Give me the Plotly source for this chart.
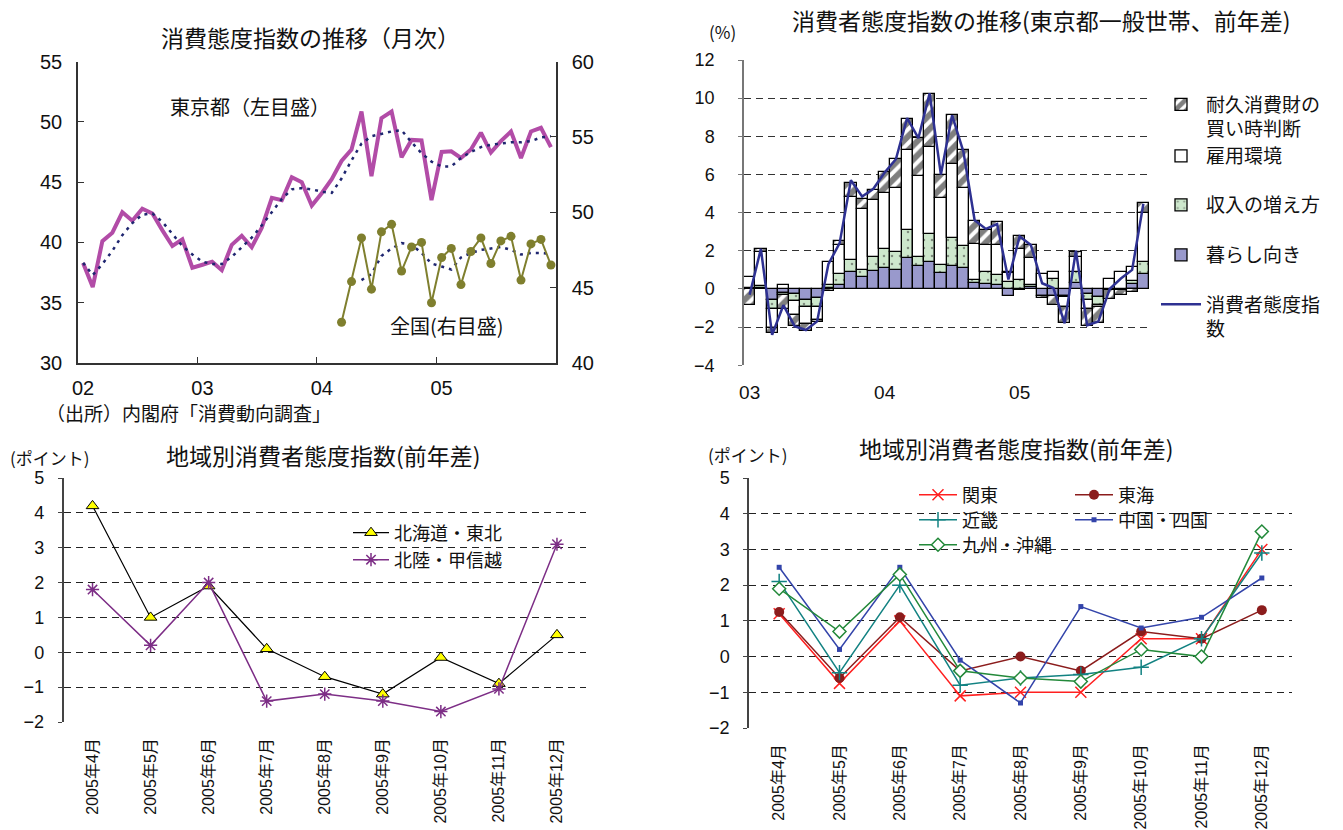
import plotly.graph_objects as go

W, H = 1343, 830
JP = "Noto Sans CJK JP"
NUM = "Liberation Sans, Noto Sans CJK JP"
AX = "#333333"
INK = "#111111"


def fx(px):
    return px / W


def fy(px):
    return 1 - px / H


# ---------------- 消費態度指数の推移（月次） ----------------
months_a = [f"{y}-{m:02d}" for y in range(2002, 2006) for m in range(1, 13)]
year_starts = ["2002-01-01", "2003-01-01", "2004-01-01", "2005-01-01"]
year_labels = ["02", "03", "04", "05"]

tokyo = [38.3, 36.3, 40.1, 40.8, 42.5, 41.8, 42.8, 42.4, 41.0, 39.7, 40.25, 37.9,
         38.15, 38.4, 37.7, 39.8, 40.55, 39.6, 41.2, 43.7, 43.5, 45.4, 45.0, 43.05,
         44.1, 45.25, 46.75, 47.7, 50.85, 45.5, 50.3, 50.85, 47.05, 48.5, 48.45, 43.5,
         47.5, 47.55, 47.0, 47.7, 49.1, 47.45, 48.4, 49.2, 47.0, 49.2, 49.5, 47.9]
tokyo_trend = [38.3, 37.3, 38.2, 39.3, 40.6, 41.6, 42.3, 42.4, 41.7, 40.7, 39.7, 39.0,
               38.4, 38.2, 38.2, 38.8, 39.6, 40.4, 41.4, 42.5, 43.6, 44.4, 44.5, 44.4,
               44.2, 44.1, 45.3, 46.8, 48.2, 48.8, 49.0, 49.2, 49.3, 48.3, 47.4, 46.7,
               46.3, 46.3, 47.0, 47.5, 47.9, 48.1, 48.2, 48.3, 48.3, 48.4, 48.7, 48.8]
national_months = months_a[26:]
national = [42.7, 45.4, 48.3, 44.9, 48.7, 49.2, 46.1, 47.7, 48.0, 44.0, 47.0,
            47.6, 45.2, 47.4, 48.3, 46.6, 48.1, 48.4, 45.5, 47.9, 48.2, 46.5]
national_trend_months = months_a[28:]
national_trend = [45.5, 45.9, 47.1, 47.6, 47.95, 47.85, 47.3, 46.6, 46.4, 46.2,
                  47.0, 47.3, 47.5, 47.6, 47.7, 47.5, 47.2, 47.3, 47.3, 47.25]

# ---------------- 消費者態度指数の推移(東京都一般世帯、前年差) ----------------
months_b = months_a[12:]
year_ticks_b = ["2003-01", "2004-01", "2005-01"]
year_labels_b = ["03", "04", "05"]

kurashi = [0.0, 0.05, -0.59, -0.22, -0.25, -0.6, -0.47, 0.03, 0.23, 0.87, 0.61, 0.96,
           1.1, 1.01, 1.62, 1.18, 1.41, 0.83, 1.23, 1.1, 0.31, 0.26, 0.23, -0.38,
           -0.05, 0.1, -0.35, -0.38, -0.38, 0.3, -0.25, -0.42, -0.05, -0.05, 0.26, 0.78]
shunyu = [0.05, 0.1, -0.45, -0.08, -0.4, -0.35, -0.47, 0.2, 0.57, 0.66, 0.4, 0.71,
          1.0, 0.92, 1.48, 0.49, 1.46, 0.43, 1.46, 1.13, 0.14, 0.61, 0.52, 0.37,
          0.45, 0.12, 0.0, 0.5, -0.05, 0.6, -0.35, -0.4, 0.0, 0.0, 0.14, 0.66]
koyo = [0.6, 1.8, -0.99, 0.2, -0.7, -0.87, -0.66, 1.2, 1.5, 3.3, 3.17, 2.99,
        2.92, 3.34, 4.17, 4.24, 4.57, 3.53, 3.84, 3.04, 1.91, 1.44, 1.57, 0.45,
        1.65, 1.4, 0.8, 0.4, -0.5, 0.8, -0.45, -0.15, 0.52, 0.87, 0.77, 2.52]
taikyu = [-0.82, 0.15, -0.3, -0.75, -0.6, -0.37, -0.15, -0.1, 0.23, 0.75, 0.54, 0.52,
          1.11, 1.53, 1.65, 2.02, 2.78, 1.2, 2.61, 2.0, 1.2, 0.78, 1.17, 0.05,
          0.7, 0.7, -0.1, -0.45, -0.87, 0.25, -0.87, -0.8, -0.5, -0.25, -0.17, 0.52]
index_b = [-0.3, 2.1, -2.4, -0.85, -1.95, -2.15, -1.7, 1.3, 2.4, 5.7, 4.85, 5.25,
           6.1, 6.8, 8.95, 7.9, 10.25, 6.0, 9.1, 7.2, 3.6, 3.15, 3.4, 0.5,
           2.75, 2.3, 0.3, 0.05, -1.8, 2.0, -1.9, -1.7, 0.0, 0.55, 1.0, 4.47]

# ---------------- 地域別消費者態度指数(前年差) ----------------
months_c = ["2005年4月", "2005年5月", "2005年6月", "2005年7月", "2005年8月",
            "2005年9月", "2005年10月", "2005年11月", "2005年12月"]
hokkaido_tohoku = [4.2, 1.0, 1.9, 0.1, -0.7, -1.2, -0.15, -0.9, 0.5]
hokuriku_koshinetsu = [1.8, 0.2, 2.0, -1.4, -1.2, -1.4, -1.7, -1.05, 3.1]
kanto = [1.2, -0.75, 1.0, -1.1, -1.0, -1.0, 0.5, 0.5, 3.0]
tokai = [1.25, -0.6, 1.1, -0.4, 0.0, -0.4, 0.7, 0.5, 1.3]
kinki = [2.1, -0.45, 2.0, -0.8, -0.6, -0.5, -0.3, 0.5, 2.9]
chugoku_shikoku = [2.5, 0.2, 2.5, -0.1, -1.3, 1.4, 0.8, 1.1, 2.2]
kyushu_okinawa = [1.9, 0.7, 2.3, -0.4, -0.6, -0.7, 0.2, 0.0, 3.5]

fig = go.Figure()

# ---- monthly index (left/right scales)
dot_line = dict(color="#1F2670", width=2.5, dash="3px,5px")
fig.add_trace(go.Scatter(x=months_a, y=tokyo, xperiod="M1", xperiodalignment="middle",
                         mode="lines", line=dict(color="#B24CA7", width=4),
                         xaxis="x", yaxis="y", showlegend=False, name="東京都"))
fig.add_trace(go.Scatter(x=months_a, y=tokyo_trend, xperiod="M1", xperiodalignment="middle",
                         mode="lines", line=dot_line, xaxis="x", yaxis="y", showlegend=False))
fig.add_trace(go.Scatter(x=national_trend_months, y=national_trend, xperiod="M1",
                         xperiodalignment="middle", mode="lines", line=dot_line,
                         xaxis="x", yaxis="y2", showlegend=False))
fig.add_trace(go.Scatter(x=national_months, y=national, xperiod="M1", xperiodalignment="middle",
                         mode="lines+markers", line=dict(color="#7F7F2E", width=2),
                         marker=dict(size=9, color="#7F7F2E"),
                         xaxis="x", yaxis="y2", showlegend=False, name="全国"))

# ---- Tokyo year-on-year contributions
bar_line = dict(color="black", width=1.3)
fig.add_trace(go.Bar(x=months_b, y=kurashi, name="暮らし向き", xaxis="x2", yaxis="y3",
                     marker=dict(color="#9999CC", line=bar_line), legend="legend4"))
fig.add_trace(go.Bar(x=months_b, y=shunyu, name="収入の増え方", xaxis="x2", yaxis="y3",
                     marker=dict(color="#CDE7CC", line=bar_line,
                                 pattern=dict(shape=".", fgcolor="#333333", size=8,
                                              solidity=0.08, fillmode="overlay")),
                     legend="legend3"))
fig.add_trace(go.Bar(x=months_b, y=koyo, name="雇用環境", xaxis="x2", yaxis="y3",
                     marker=dict(color="white", line=bar_line), legend="legend2"))
fig.add_trace(go.Bar(x=months_b, y=taikyu, name="耐久消費財の<br>買い時判断", xaxis="x2", yaxis="y3",
                     marker=dict(color="white", line=bar_line,
                                 pattern=dict(shape="/", fgcolor="black", size=10,
                                              solidity=0.6, fillmode="overlay")),
                     legend="legend"))
fig.add_trace(go.Scatter(x=months_b, y=index_b, name="消費者態度指<br>数", mode="lines",
                         line=dict(color="#2E3192", width=2.5), xaxis="x2", yaxis="y3",
                         legend="legend5"))

# ---- regional (left)
fig.add_trace(go.Scatter(x=months_c, y=hokkaido_tohoku, name="北海道・東北", mode="lines+markers",
                         line=dict(color="black", width=1.2),
                         marker=dict(symbol="triangle-up", size=11, color="#FFFF00",
                                     line=dict(color="black", width=1)),
                         xaxis="x3", yaxis="y4", legend="legend6"))
fig.add_trace(go.Scatter(x=months_c, y=hokuriku_koshinetsu, name="北陸・甲信越", mode="lines+markers",
                         line=dict(color="#7D2E86", width=1.5),
                         marker=dict(symbol="asterisk-open", size=11,
                                     line=dict(color="#7D2E86", width=1.5)),
                         xaxis="x3", yaxis="y4", legend="legend7"))

# ---- regional (right)
fig.add_trace(go.Scatter(x=months_c, y=kanto, name="関東", mode="lines+markers",
                         line=dict(color="#FF2020", width=1.5),
                         marker=dict(symbol="x-thin-open", size=11,
                                     line=dict(color="#FF2020", width=1.5)),
                         xaxis="x4", yaxis="y5", legend="legend8"))
fig.add_trace(go.Scatter(x=months_c, y=tokai, name="東海", mode="lines+markers",
                         line=dict(color="#8B1C1C", width=1.5),
                         marker=dict(symbol="circle", size=10, color="#8B1C1C"),
                         xaxis="x4", yaxis="y5", legend="legend9"))
fig.add_trace(go.Scatter(x=months_c, y=kinki, name="近畿", mode="lines+markers",
                         line=dict(color="#128282", width=1.5),
                         marker=dict(symbol="cross-thin-open", size=11,
                                     line=dict(color="#128282", width=1.5)),
                         xaxis="x4", yaxis="y5", legend="legend10"))
fig.add_trace(go.Scatter(x=months_c, y=chugoku_shikoku, name="中国・四国", mode="lines+markers",
                         line=dict(color="#3344AA", width=1.5),
                         marker=dict(symbol="square", size=5, color="#3344AA"),
                         xaxis="x4", yaxis="y5", legend="legend11"))
fig.add_trace(go.Scatter(x=months_c, y=kyushu_okinawa, name="九州・沖縄", mode="lines+markers",
                         line=dict(color="#23893A", width=1.5),
                         marker=dict(symbol="diamond", size=10, color="white",
                                     line=dict(color="#23893A", width=1.5)),
                         xaxis="x4", yaxis="y5", legend="legend12"))


def legend_box(x_px, y_px, size=18, valign="middle", itemwidth=30):
    return dict(x=fx(x_px), y=fy(y_px), xanchor="left", yanchor="middle",
                bgcolor="rgba(0,0,0,0)", borderwidth=0, itemwidth=itemwidth,
                valign=valign, font=dict(family=JP, size=size, color=INK))


# plot areas (pixels)
C3_TOP, C3_BOT = 478, 722
C4_TOP, C4_BOT = 478, 728
c3_zero = fy(C3_BOT) + (0 - (-2)) / 7 * (fy(C3_TOP) - fy(C3_BOT))
c4_zero = fy(C4_BOT) + (0 - (-2)) / 7 * (fy(C4_TOP) - fy(C4_BOT))
boundaries_c = [i + 0.5 for i in range(len(months_c))]

num_font = dict(family=NUM, size=20, color=INK)
small_num = dict(family=NUM, size=18, color=INK)
month_font = dict(family=NUM, size=16, color=INK)
dash_grid = dict(showgrid=True, gridcolor="#222222", gridwidth=1, griddash="7px,5px")

fig.update_layout(
    width=W, height=H, autosize=False,
    margin=dict(l=0, r=0, t=0, b=0),
    paper_bgcolor="white", plot_bgcolor="white",
    font=dict(family=JP, size=18, color=INK),
    barmode="relative", bargap=0,
    # chart 1
    xaxis=dict(type="date", domain=[fx(78), fx(556)], anchor="y",
               range=["2002-01-01", "2006-01-01"], tickmode="array",
               tickvals=year_starts, ticktext=year_labels, ticks="inside", ticklen=6,
               tickcolor=AX, ticklabelshift=5, ticklabelstandoff=6,
               showline=True, linecolor=AX, linewidth=1.5, showgrid=False,
               zeroline=False, tickfont=num_font),
    yaxis=dict(domain=[fy(363), fy(61.5)], anchor="x", range=[30, 55], dtick=5,
               ticks="inside", ticklen=6, tickcolor=AX, showline=True, linecolor=AX,
               linewidth=1.5, showgrid=False, zeroline=False, tickfont=num_font,
               ticklabelstandoff=10),
    yaxis2=dict(overlaying="y", side="right", anchor="x", range=[40, 60], dtick=5,
                ticks="inside", ticklen=6, tickcolor=AX, showline=True, linecolor=AX,
                linewidth=1.5, showgrid=False, zeroline=False, tickfont=num_font,
                ticklabelstandoff=10),
    # chart 2
    xaxis2=dict(type="category", domain=[fx(744), fx(1149)], anchor="y3",
                tickmode="array", tickvals=year_ticks_b, ticktext=year_labels_b,
                ticks="", showline=False, showgrid=False, zeroline=False,
                tickfont=dict(family=NUM, size=19, color=INK), ticklabelstandoff=14),
    yaxis3=dict(domain=[fy(365.3), fy(60)], anchor="x2", range=[-4, 12], dtick=2,
                ticks="outside", ticklen=4, tickcolor="#777777", showline=True,
                linecolor="#777777", linewidth=1.5, zeroline=False,
                tickfont=small_num, ticklabelstandoff=20,
                showgrid=True, gridcolor="#333333", gridwidth=1, griddash="7px,5px"),
    # chart 3
    xaxis3=dict(type="category", domain=[fx(63.5), fx(586)], anchor="y4",
                range=[-0.5, 8.5], tickangle=-90, ticks="", showline=False,
                showgrid=False, zeroline=False, ticklabelstandoff=12,
                tickfont=month_font),
    yaxis4=dict(domain=[fy(C3_BOT), fy(C3_TOP)], anchor="x3", range=[-2, 5], dtick=1,
                ticks="outside", ticklen=4, tickcolor="#444444", showline=True,
                linecolor="#444444", linewidth=1.5, zeroline=False,
                tickfont=small_num, ticklabelstandoff=10, **dash_grid),
    xaxis5=dict(overlaying="x3", anchor="free", position=c3_zero, range=[-0.5, 8.5],
                tickmode="array", tickvals=boundaries_c, ticks="inside", ticklen=6,
                tickcolor=INK, showline=True, linecolor=INK, linewidth=1.5,
                showticklabels=False, showgrid=False, zeroline=False),
    # chart 4
    xaxis4=dict(type="category", domain=[fx(749), fx(1292)], anchor="y5",
                range=[-0.5, 8.5], tickangle=-90, ticks="", showline=False,
                showgrid=False, zeroline=False, ticklabelstandoff=12,
                tickfont=month_font),
    yaxis5=dict(domain=[fy(C4_BOT), fy(C4_TOP)], anchor="x4", range=[-2, 5], dtick=1,
                ticks="outside", ticklen=4, tickcolor="#444444", showline=True,
                linecolor="#444444", linewidth=1.5, zeroline=False,
                tickfont=small_num, ticklabelstandoff=10, **dash_grid),
    xaxis6=dict(overlaying="x4", anchor="free", position=c4_zero, range=[-0.5, 8.5],
                tickmode="array", tickvals=boundaries_c, ticks="inside", ticklen=6,
                tickcolor=INK, showline=True, linecolor=INK, linewidth=1.5,
                showticklabels=False, showgrid=False, zeroline=False),
    # legends
    legend=legend_box(1156, 117, size=19, valign="top", itemwidth=40),
    legend2=legend_box(1156, 156, size=19, itemwidth=40),
    legend3=legend_box(1156, 205, size=19, itemwidth=40),
    legend4=legend_box(1156, 255, size=19, itemwidth=40),
    legend5=legend_box(1156, 317, size=19, valign="top", itemwidth=40),
    legend6=legend_box(348, 533, itemwidth=36),
    legend7=legend_box(348, 560, itemwidth=36),
    legend8=legend_box(914, 495, itemwidth=38),
    legend9=legend_box(1070, 495, itemwidth=38),
    legend10=legend_box(914, 520, itemwidth=38),
    legend11=legend_box(1070, 520, itemwidth=38),
    legend12=legend_box(914, 545, itemwidth=38),
)

# fixed plot areas: tick labels must not resize the subplots
for ax in ["xaxis", "yaxis", "yaxis2", "xaxis2", "yaxis3", "xaxis3", "yaxis4",
           "xaxis5", "xaxis4", "yaxis5", "xaxis6"]:
    fig.layout[ax].automargin = False

annotations = [
    dict(text="消費態度指数の推移（月次）", x=fx(310), y=fy(37), size=23),
    dict(text="東京都（左目盛）", x=fx(250), y=fy(107), size=20),
    dict(text="全国(右目盛)", x=fx(447), y=fy(325), size=20),
    dict(text="（出所）内閣府「消費動向調査」", x=fx(188), y=fy(413), size=19),
    dict(text="消費者態度指数の推移(東京都一般世帯、前年差)", x=fx(1041), y=fy(20), size=23),
    dict(text="(%)", x=fx(722), y=fy(32), size=17),
    dict(text="地域別消費者態度指数(前年差)", x=fx(323), y=fy(455), size=23),
    dict(text="(ポイント)", x=fx(50), y=fy(457), size=17),
    dict(text="地域別消費者態度指数(前年差)", x=fx(1016), y=fy(448), size=23),
    dict(text="(ポイント)", x=fx(748), y=fy(454), size=17),
]
for a in annotations:
    fig.add_annotation(text=a["text"], x=a["x"], y=a["y"], xref="paper", yref="paper",
                       xanchor="center", yanchor="middle", showarrow=False,
                       font=dict(family=JP, size=a["size"], color=INK))

fig.write_html("out.html")
